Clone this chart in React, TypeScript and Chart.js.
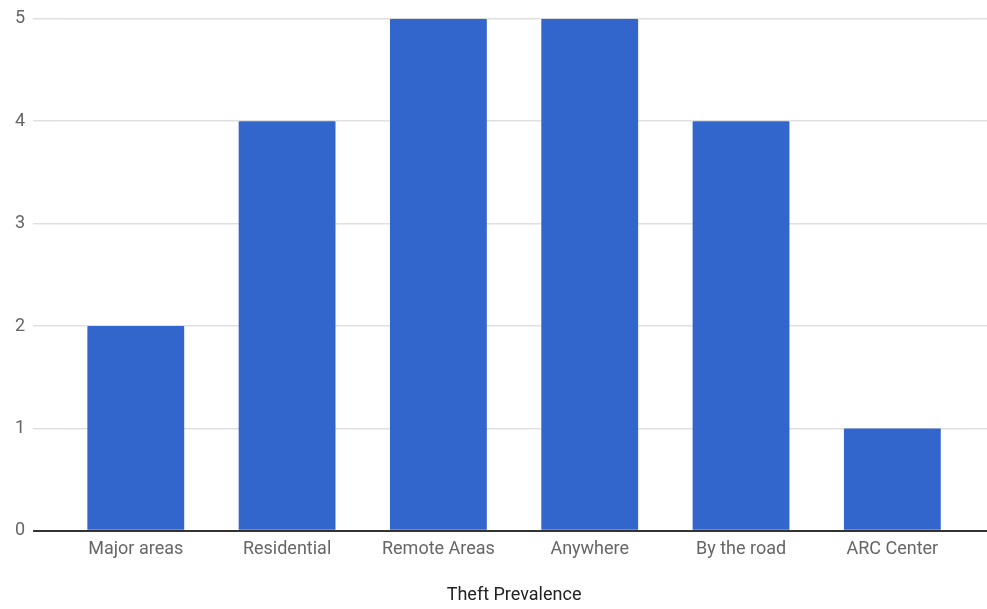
import React, { useEffect, useRef } from "react";
import { Chart, registerables } from "chart.js";

Chart.register(...registerables);

const categories = ["Major areas", "Residential", "Remote Areas", "Anywhere", "By the road", "ARC Center"];
const values = [2, 4, 5, 5, 4, 1];
const yMin = 0;
const yMax = 5;
const xTitle = "Theft Prevalence";

export default function App() {
  const ref = useRef<HTMLCanvasElement | null>(null);
  useEffect(() => {
    if (!ref.current) return;
    const gridColor = (ctx: any) => (ctx.tick && ctx.tick.value === 0 ? "#333333" : "#e0e0e0");
    const gridWidth = (ctx: any) => (ctx.tick && ctx.tick.value === 0 ? 2 : 1.5);
    const chart = new Chart(ref.current, {
      type: "bar",
      data: {
        labels: categories,
        datasets: [
          {
            data: values,
            backgroundColor: "#3366cc",
            borderWidth: 0,
            borderRadius: 1,
            barPercentage: 0.64,
            categoryPercentage: 1,
          },
        ],
      },
      options: {
        animation: false,
        responsive: false,
        maintainAspectRatio: false,
        layout: { padding: { left: 7, top: 17, right: 0, bottom: 3 } },
        plugins: { legend: { display: false }, tooltip: { enabled: false } },
        scales: {
          x: {
            grid: { display: false, drawTicks: false, tickLength: 0 },
            border: { display: false },
            ticks: { color: "#666666", font: { family: "Roboto", size: 18 }, padding: 8, maxRotation: 0 },
            title: {
              display: true,
              text: xTitle,
              color: "#222222",
              font: { family: "Roboto", size: 18 },
              padding: { top: 16, bottom: 0 },
            },
          },
          y: {
            min: yMin,
            max: yMax,
            position: "left",
            border: { display: false },
            grid: { color: gridColor, tickColor: gridColor, tickLength: 27, lineWidth: gridWidth },
            ticks: { stepSize: 1, color: "#666666", font: { family: "Roboto", size: 18 }, padding: 8 },
          },
          y2: {
            min: yMin,
            max: yMax,
            position: "right",
            border: { display: false },
            grid: { drawOnChartArea: false, color: gridColor, tickColor: gridColor, tickLength: 19, lineWidth: gridWidth },
            ticks: { display: false, stepSize: 1 },
          },
        },
      },
    });
    return () => chart.destroy();
  }, []);
  return (
    <div style={{ position: "absolute", left: 0, top: 0, width: 987, height: 609, background: "#fff" }}>
      <canvas ref={ref} width={987} height={609} />
    </div>
  );
}
